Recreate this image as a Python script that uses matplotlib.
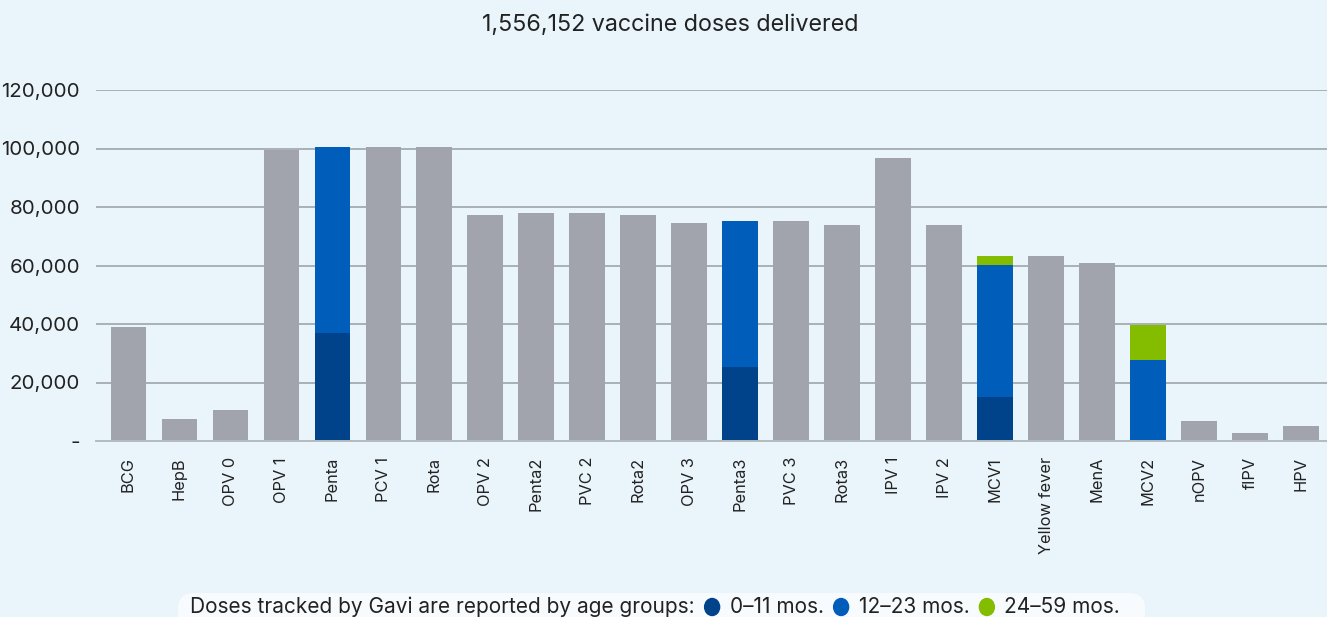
import matplotlib
matplotlib.use("Agg")
import matplotlib.pyplot as plt
import numpy as np
from matplotlib.patches import FancyBboxPatch, Ellipse
from matplotlib.ticker import FuncFormatter

# data
vaccines = ["BCG", "HepB", "OPV 0", "OPV 1", "Penta", "PCV 1", "Rota", "OPV 2",
            "Penta2", "PVC 2", "Rota2", "OPV 3", "Penta3", "PVC 3", "Rota3",
            "IPV 1", "IPV 2", "MCV1", "Yellow fever", "MenA", "MCV2", "nOPV",
            "fIPV", "HPV"]
# doses not split by age group (grey)
total_doses = [39000, 7500, 10600, 99500, 0, 100500, 100500, 77300,
               77900, 77900, 77300, 74500, 0, 75200, 73800,
               96800, 73800, 0, 63200, 60900, 0, 6800,
               2700, 5100]
# doses tracked by Gavi, split by age group
age_0_11 = [0, 0, 0, 0, 36900, 0, 0, 0, 0, 0, 0, 0, 25300, 0, 0,
            0, 0, 15000, 0, 0, 0, 0, 0, 0]
age_12_23 = [0, 0, 0, 0, 63600, 0, 0, 0, 0, 0, 0, 0, 49900, 0, 0,
             0, 0, 45200, 0, 0, 27700, 0, 0, 0]
age_24_59 = [0, 0, 0, 0, 0, 0, 0, 0, 0, 0, 0, 0, 0, 0, 0,
             0, 0, 3000, 0, 0, 12000, 0, 0, 0]
y_ticks = [0, 20000, 40000, 60000, 80000, 100000, 120000]
title = "1,556,152 vaccine doses delivered"
legend_intro = "Doses tracked by Gavi are reported by age groups:"
age_labels = ["0\u201311 mos.", "12\u201323 mos.", "24\u201359 mos."]

BG = "#EAF5FB"
GREY = "#A1A4AC"
DARK_BLUE = "#00438A"
BLUE = "#005DBA"
GREEN = "#84BC00"
TEXT = "#222222"

plt.rcParams["font.family"] = ["Inter", "DejaVu Sans"]

W, H = 1327, 617
fig = plt.figure(figsize=(W / 100, H / 100), dpi=100, facecolor=BG)
ax = fig.add_axes([96 / W, 176 / H, 1 - 96 / W, 351 / H])
ax.set_facecolor(BG)

x = np.arange(len(vaccines))
w = 0.69
ax.bar(x, total_doses, width=w, color=GREY, zorder=3)
ax.bar(x, age_0_11, width=w, color=DARK_BLUE, zorder=3)
ax.bar(x, age_12_23, width=w, bottom=age_0_11, color=BLUE, zorder=3)
bottom2 = np.array(age_0_11) + np.array(age_12_23)
ax.bar(x, age_24_59, width=w, bottom=bottom2, color=GREEN, zorder=3)

ax.set_xlim(-0.63, 23.51)
ax.set_ylim(0, 120000)
ax.set_yticks(y_ticks)
ax.yaxis.set_major_formatter(FuncFormatter(lambda v, p: "-" if v == 0 else f"{int(v):,}"))
ax.grid(axis="y", color="#A9B1B6", linewidth=1.4, zorder=1)
ax.set_xticks(x)
ax.set_xticklabels(vaccines, rotation=90, fontsize=11.8, color=TEXT)
ax.tick_params(axis="y", length=0, pad=11.5, labelsize=14.8, labelcolor=TEXT)
ax.tick_params(axis="x", length=0, pad=11.5)
for s in ["top", "right", "left"]:
    ax.spines[s].set_visible(False)
ax.spines["bottom"].set_color("#B4BCC0")
ax.spines["bottom"].set_linewidth(1.4)
ax.spines["bottom"].set_zorder(4)

fig.text(670 / W, 1 - 25 / H, title, ha="center", va="center",
         fontsize=16.8, color=TEXT)

# legend strip at the bottom
box = FancyBboxPatch((178 / W, -20 / H), (1145 - 178) / W, 44 / H,
                     boxstyle="round,pad=0,rounding_size=0.012",
                     transform=fig.transFigure, facecolor="#F7FBFE",
                     edgecolor="none", mutation_aspect=W / H)
fig.patches.append(box)

renderer = fig.canvas.get_renderer()
ly = 1 - 607 / H
cursor = 190 / W
t = fig.text(cursor, ly, legend_intro, ha="left", va="center", fontsize=15, color=TEXT)
cursor = t.get_window_extent(renderer).x1 / W
for lab, col in zip(age_labels, [DARK_BLUE, BLUE, GREEN]):
    cursor += 10 / W
    dot = Ellipse((cursor + 7.5 / W, ly), 15 / W, 17 / H,
                  transform=fig.transFigure, color=col)
    fig.patches.append(dot)
    cursor += 25 / W
    t = fig.text(cursor, ly, lab, ha="left", va="center", fontsize=15, color=TEXT)
    cursor = t.get_window_extent(renderer).x1 / W

fig.savefig("out.png", dpi=100, facecolor=BG)
